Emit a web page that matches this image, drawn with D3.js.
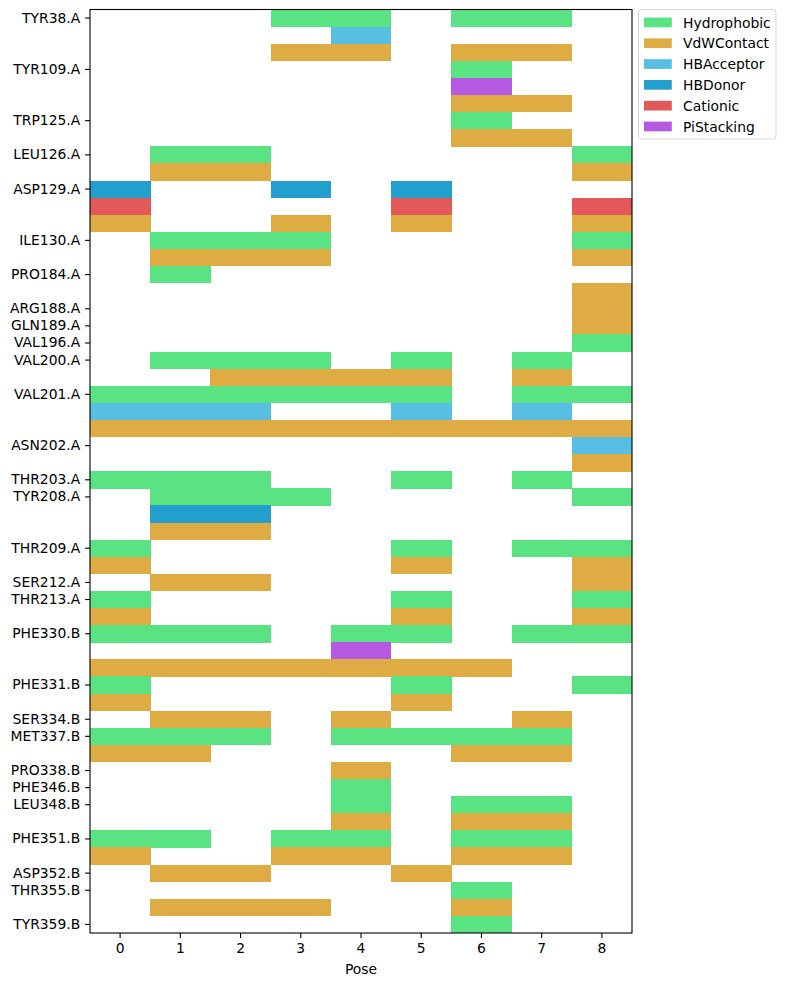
<!DOCTYPE html>
<html><head><meta charset="utf-8">
<script src="https://cdn.jsdelivr.net/npm/d3@7/dist/d3.min.js"></script>
<style>
body{margin:0;background:#fff}
svg text{font-family:"DejaVu Sans",sans-serif;fill:#000}
</style>
</head><body><div id="chart"></div>
<script>
const poses = [0,1,2,3,4,5,6,7,8];
const interactionTypes = ["Hydrophobic","VdWContact","HBAcceptor","HBDonor","Cationic","PiStacking"];
const interactionColors = ["#59e382","#dfab43","#59bee3","#239fcd","#e35959","#b559e3"];

const rowResidues = [
 "TYR38.A","TYR38.A","TYR38.A","TYR109.A","TYR109.A","TYR109.A","TRP125.A","TRP125.A",
 "LEU126.A","LEU126.A","ASP129.A","ASP129.A","ASP129.A","ILE130.A","ILE130.A",
 "PRO184.A","PRO184.A","ARG188.A","GLN189.A","VAL196.A","VAL200.A","VAL200.A",
 "VAL201.A","VAL201.A","VAL201.A","ASN202.A","ASN202.A","THR203.A",
 "TYR208.A","TYR208.A","TYR208.A","THR209.A","THR209.A","SER212.A","THR213.A","THR213.A",
 "PHE330.B","PHE330.B","PHE330.B","PHE331.B","PHE331.B","SER334.B","MET337.B","MET337.B",
 "PRO338.B","PHE346.B","LEU348.B","LEU348.B","PHE351.B","PHE351.B","ASP352.B",
 "THR355.B","THR355.B","TYR359.B"
];
const rowInteractions = [
 "Hydrophobic","HBAcceptor","VdWContact","Hydrophobic","PiStacking","VdWContact","Hydrophobic","VdWContact",
 "Hydrophobic","VdWContact","HBDonor","Cationic","VdWContact","Hydrophobic","VdWContact",
 "Hydrophobic","VdWContact","VdWContact","VdWContact","Hydrophobic","Hydrophobic","VdWContact",
 "Hydrophobic","HBAcceptor","VdWContact","HBAcceptor","VdWContact","Hydrophobic",
 "Hydrophobic","HBDonor","VdWContact","Hydrophobic","VdWContact","VdWContact","Hydrophobic","VdWContact",
 "Hydrophobic","PiStacking","VdWContact","Hydrophobic","VdWContact","VdWContact","Hydrophobic","VdWContact",
 "VdWContact","Hydrophobic","Hydrophobic","VdWContact","Hydrophobic","VdWContact","VdWContact",
 "Hydrophobic","VdWContact","Hydrophobic"
];
const rowActivePoses = [
 [3,4,6,7],[4],[3,4,6,7],[6],[6],[6,7],[6],[6,7],
 [1,2,8],[1,2,8],[0,3,5],[0,5,8],[0,3,5,8],[1,2,3,8],[1,2,3,8],
 [1],[8],[8],[8],[8],[1,2,3,5,7],[2,3,4,5,7],
 [0,1,2,3,4,5,7,8],[0,1,2,5,7],[0,1,2,3,4,5,6,7,8],[8],[8],[0,1,2,5,7],
 [1,2,3,8],[1,2],[1,2],[0,5,7,8],[0,5,8],[1,2,8],[0,5,8],[0,5,8],
 [0,1,2,4,5,7,8],[4],[0,1,2,3,4,5,6],[0,5,8],[0,5],[1,2,4,7],[0,1,2,4,5,6,7],[0,1,6,7],
 [4],[4],[4,6,7],[4,6,7],[0,1,3,4,6,7],[0,3,4,6,7],[1,2,5],
 [6],[1,2,3,6],[6]
];
const xLabel = "Pose";

(function(){
const W = 785, H = 986;
const mLeft = 90, mRight = 632, mTop = 9.5, mBottom = 933;
const fs = 13.89;

const svg = d3.select("#chart").append("svg").attr("width", W).attr("height", H);

const rowIdx = d3.range(rowResidues.length);
const x = d3.scaleBand().domain(poses).range([mLeft, mRight]).padding(0);
const y = d3.scaleBand().domain(rowIdx).range([mTop, mBottom]).padding(0);
const color = d3.scaleOrdinal().domain(interactionTypes).range(interactionColors);

const cells = [];
rowIdx.forEach(i => rowActivePoses[i].forEach(p => cells.push({row:i, pose:p, type:rowInteractions[i]})));

svg.append("g").selectAll("rect").data(cells).join("rect")
  .attr("x", d => x(d.pose)).attr("y", d => y(d.row))
  .attr("width", x.bandwidth() + 0.3).attr("height", y.bandwidth() + 0.3)
  .attr("fill", d => color(d.type))
  .attr("shape-rendering", "crispEdges");

svg.append("rect").attr("x", mLeft).attr("y", mTop).attr("width", mRight-mLeft).attr("height", mBottom-mTop)
  .attr("fill","none").attr("stroke","#000").attr("stroke-width",1.1);

const firstRows = rowIdx.filter(i => i === 0 || rowResidues[i] !== rowResidues[i-1]);
const yAxis = d3.axisLeft(y).tickValues(firstRows).tickFormat(i => rowResidues[i]).tickSize(4.9).tickPadding(4.9);
const gy = svg.append("g").attr("transform", `translate(${mLeft},0)`).call(yAxis);
gy.select(".domain").remove();
gy.selectAll("line").attr("stroke","#000").attr("stroke-width",1.1);
gy.selectAll("text").attr("font-size", fs).attr("fill","#000").attr("font-family","DejaVu Sans");

const xAxis = d3.axisBottom(x).tickSize(4.9).tickPadding(4.9);
const gx = svg.append("g").attr("transform", `translate(0,${mBottom})`).call(xAxis);
gx.select(".domain").remove();
gx.selectAll("line").attr("stroke","#000").attr("stroke-width",1.1);
gx.selectAll("text").attr("font-size", fs).attr("fill","#000").attr("font-family","DejaVu Sans");

svg.append("text").attr("x", (mLeft+mRight)/2).attr("y", 974).attr("text-anchor","middle")
  .attr("font-size", fs).text(xLabel);

const lg = svg.append("g");
lg.append("rect").attr("x", 638.5).attr("y", 9.5).attr("width", 137.5).attr("height", 129.5)
  .attr("rx", 3).attr("fill","#fff").attr("stroke","#d6d6d6").attr("stroke-width",1);
interactionTypes.forEach((t, i) => {
  const cy = 22.5 + i * 20.8;
  lg.append("rect").attr("x", 644).attr("y", cy - 4.9).attr("width", 27.8).attr("height", 9.7)
    .attr("fill", color(t));
  lg.append("text").attr("x", 683).attr("y", cy + 5).attr("font-size", fs).text(t);
});
})();
</script>
</body></html>
